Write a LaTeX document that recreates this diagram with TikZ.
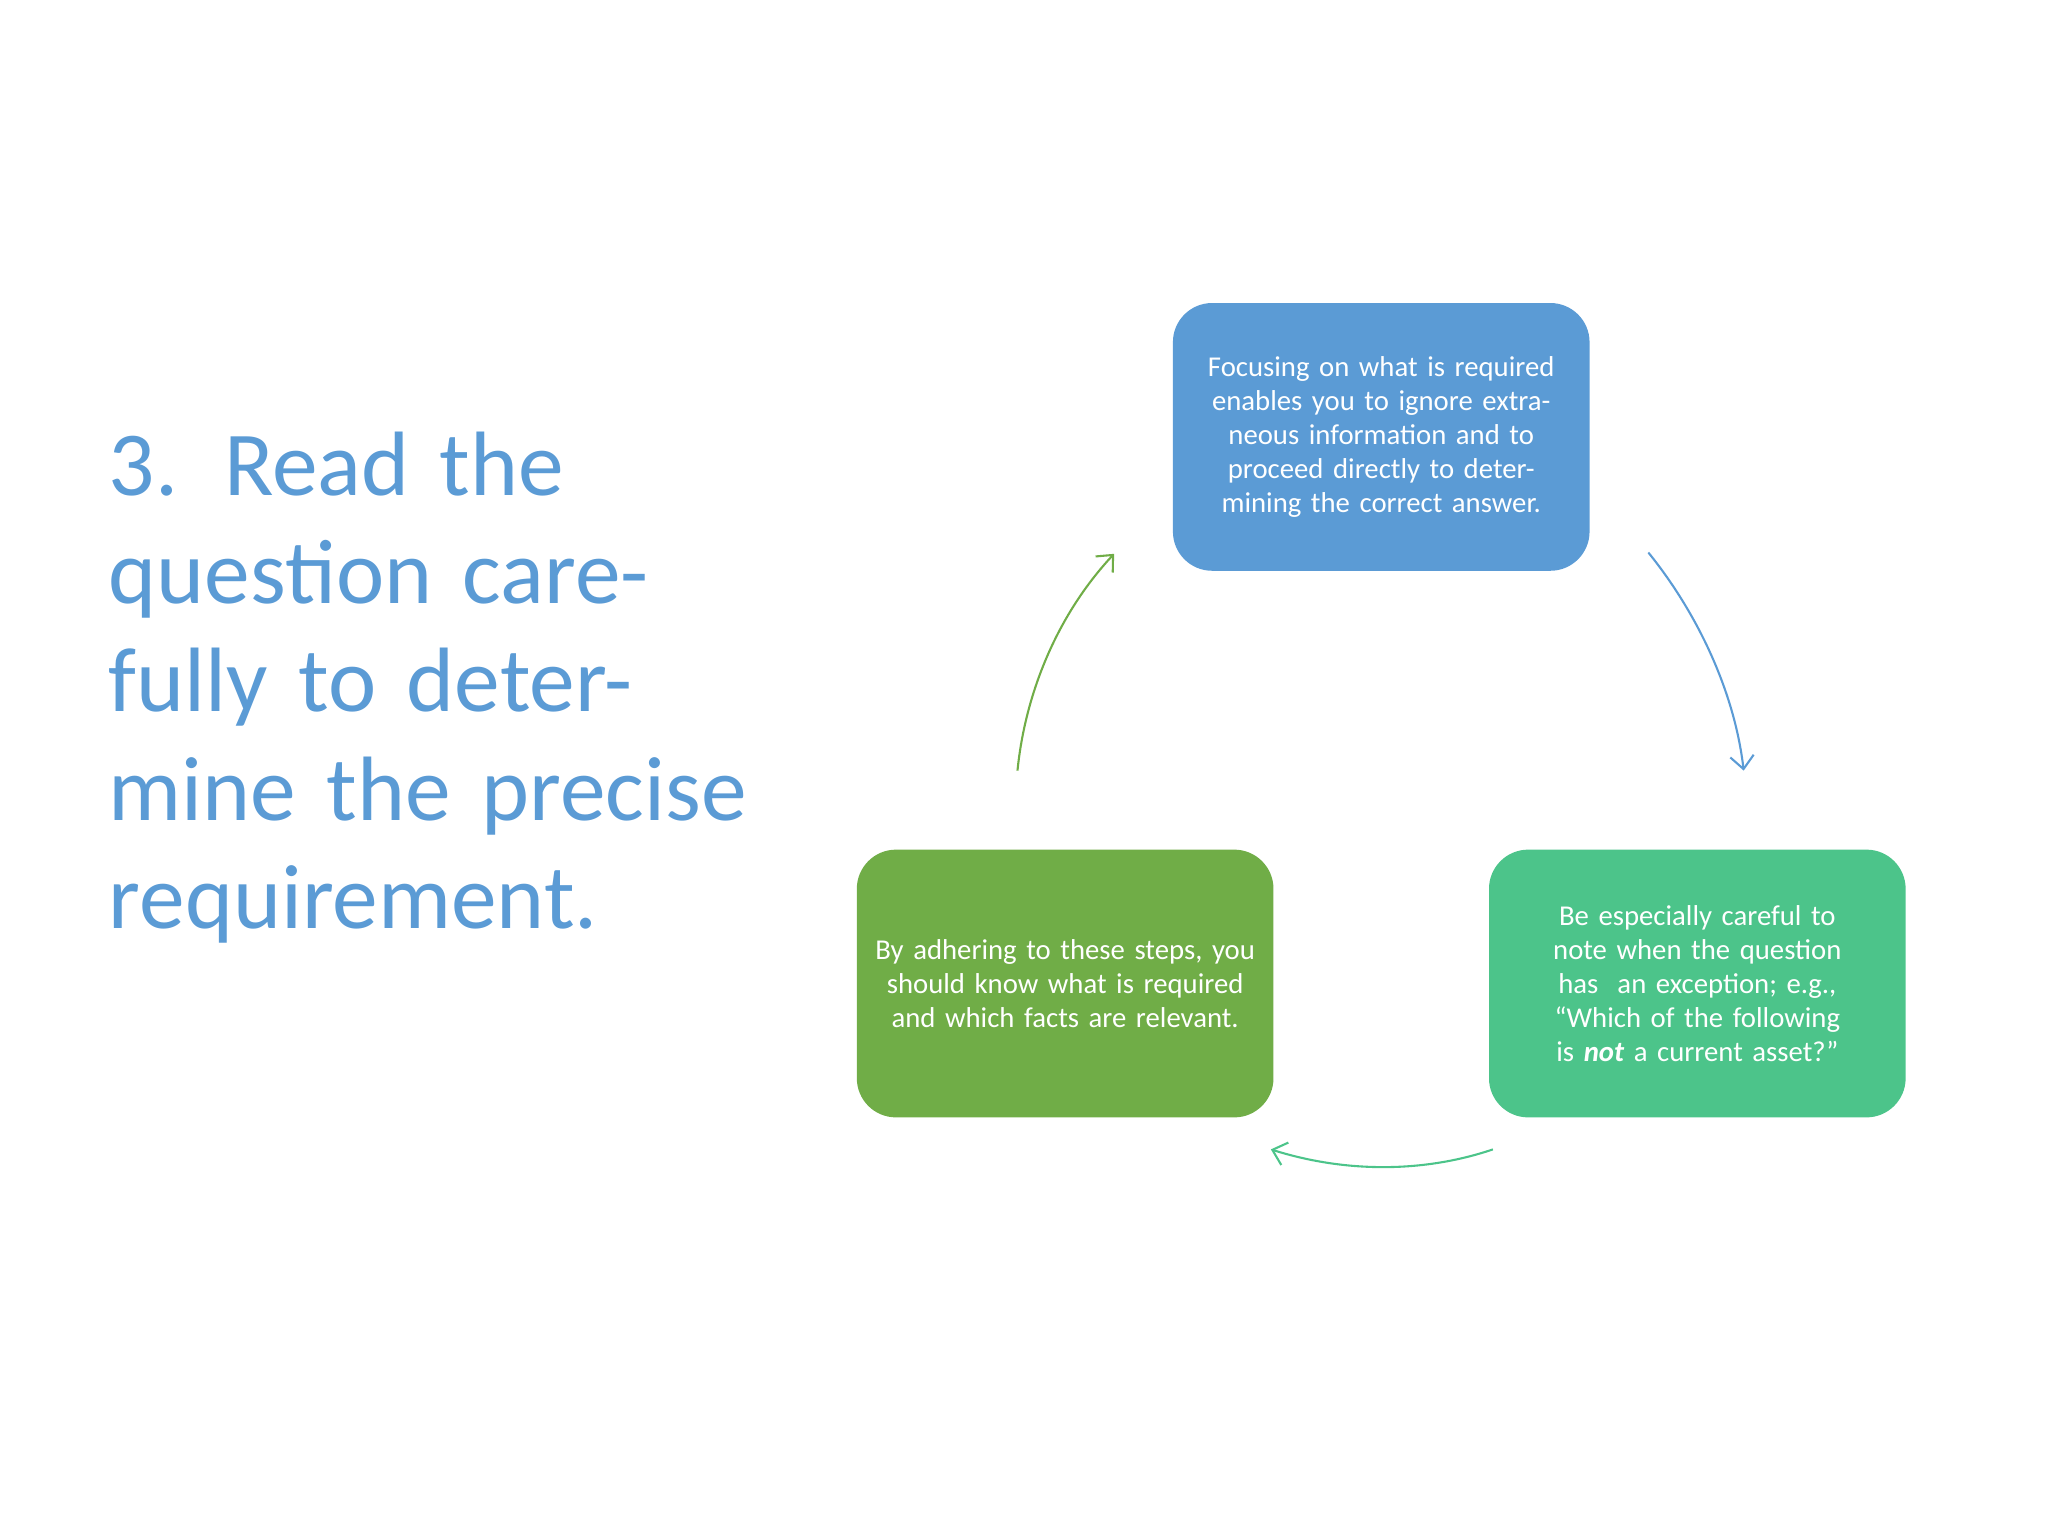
\documentclass[tikz,border=0pt]{standalone}
\usepackage{fontspec}
\setmainfont{Carlito}
\begin{document}
\begin{tikzpicture}[x=0.5pt,y=-0.5pt,
 boxs/.style={rounded corners=15pt,minimum width=159.5pt,minimum height=102.5pt,text width=146pt,align=center,text=white,font=\fontsize{11}{13}\selectfont,inner sep=0pt},
 arr/.style={line width=0.8pt,-{Straight Barb[length=5pt,width=9pt]}}]
\usetikzlibrary{arrows.meta}
\useasboundingbox (0,0) rectangle (1568,1176);
\node[anchor=north west,text=blue!30!cyan!50!black!0,inner sep=0pt] at (0,0) {};
\node (title) [anchor=north west,inner sep=0pt,text width=250pt,align=left,text={rgb,255:red,91;green,155;blue,213},font=\fontsize{35}{41.5}\selectfont] at (83,330) {3. Read the question carefully to determine the precise requirement.};
\node (b) [boxs,fill={rgb,255:red,91;green,155;blue,213}] at (1057.5,334.5) {Focusing on what is required enables you to ignore extraneous information and to proceed directly to determining the correct answer.};
\node (g) [boxs,fill={rgb,255:red,112;green,173;blue,71}] at (815.5,753) {By adhering to these steps, you should know what is required and which facts are relevant.};
\node (t) [boxs,fill={rgb,255:red,76;green,196;blue,138}] at (1299.5,753) {Be especially careful to note when the question has\ \ an exception; e.g., “Which of the following is \textbf{\textit{not}} a current asset?”};
\coordinate (b1) at (1262,423); \coordinate (b2) at (1335,590);
\coordinate (t1) at (1143,880); \coordinate (t2) at (973,880);
\coordinate (g1) at (779,590); \coordinate (g2) at (853,424);
\draw[arr,draw={rgb,255:red,91;green,155;blue,213}] (b1) .. controls (1300,470) and (1328,530) .. (b2);
\draw[arr,draw={rgb,255:red,76;green,196;blue,138}] (t1) .. controls (1090,898) and (1030,898) .. (t2);
\draw[arr,draw={rgb,255:red,112;green,173;blue,71}] (g1) .. controls (785,530) and (810,470) .. (g2);
\end{tikzpicture}
\end{document}
